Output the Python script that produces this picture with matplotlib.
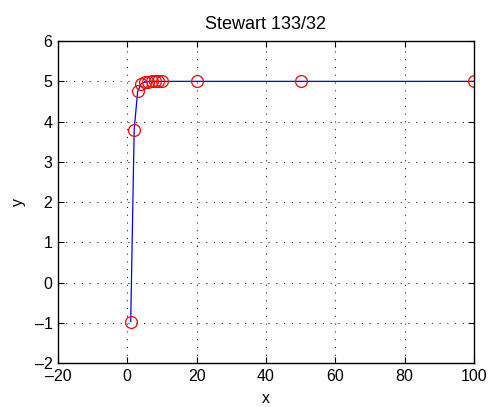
import matplotlib
matplotlib.use('Agg')
import matplotlib.pyplot as plt

x_vals = [1, 2, 3, 4, 5, 6, 7, 8, 9, 10, 20, 50, 100]
y_vals = [-0.97, 3.8, 4.75, 4.94, 4.98, 4.99, 5.0, 5.0, 5.0, 5.0, 5.0, 5.0, 5.0]
x_ticks = [-20, 0, 20, 40, 60, 80, 100]
y_ticks = [-2, -1, 0, 1, 2, 3, 4, 5, 6]

plt.rcParams['font.family'] = ['Liberation Sans', 'DejaVu Sans']
plt.rcParams['font.size'] = 11.5

fig = plt.figure(figsize=(4.91, 4.07), dpi=100)
ax = fig.add_axes([0.118, 0.108, 0.847, 0.791])

ax.plot(x_vals, y_vals, color='blue', linewidth=0.9)
ax.plot(x_vals, y_vals, linestyle='none', marker='o', markersize=8.5,
        markerfacecolor='none', markeredgecolor='red', markeredgewidth=0.9)

ax.set_xlim(-20, 100)
ax.set_ylim(-2, 6)
ax.set_xticks(x_ticks)
ax.set_yticks(y_ticks)
ax.set_xticklabels([str(t).replace('-', '\u2013') for t in x_ticks])
ax.set_yticklabels([str(t).replace('-', '\u2013') for t in y_ticks])
ax.tick_params(direction='in', length=4, top=True, right=True)
ax.tick_params(axis='y', pad=4)
ax.tick_params(axis='x', pad=4)
ax.grid(True, color='black', linestyle=(0, (1, 7)), linewidth=0.7)
for s in ax.spines.values():
    s.set_linewidth(1.0)

ax.set_title('Stewart 133/32', fontsize=13, pad=9)
ax.set_xlabel('x', labelpad=5)
ax.set_ylabel('y', labelpad=6)

fig.savefig('out.png', dpi=100)
